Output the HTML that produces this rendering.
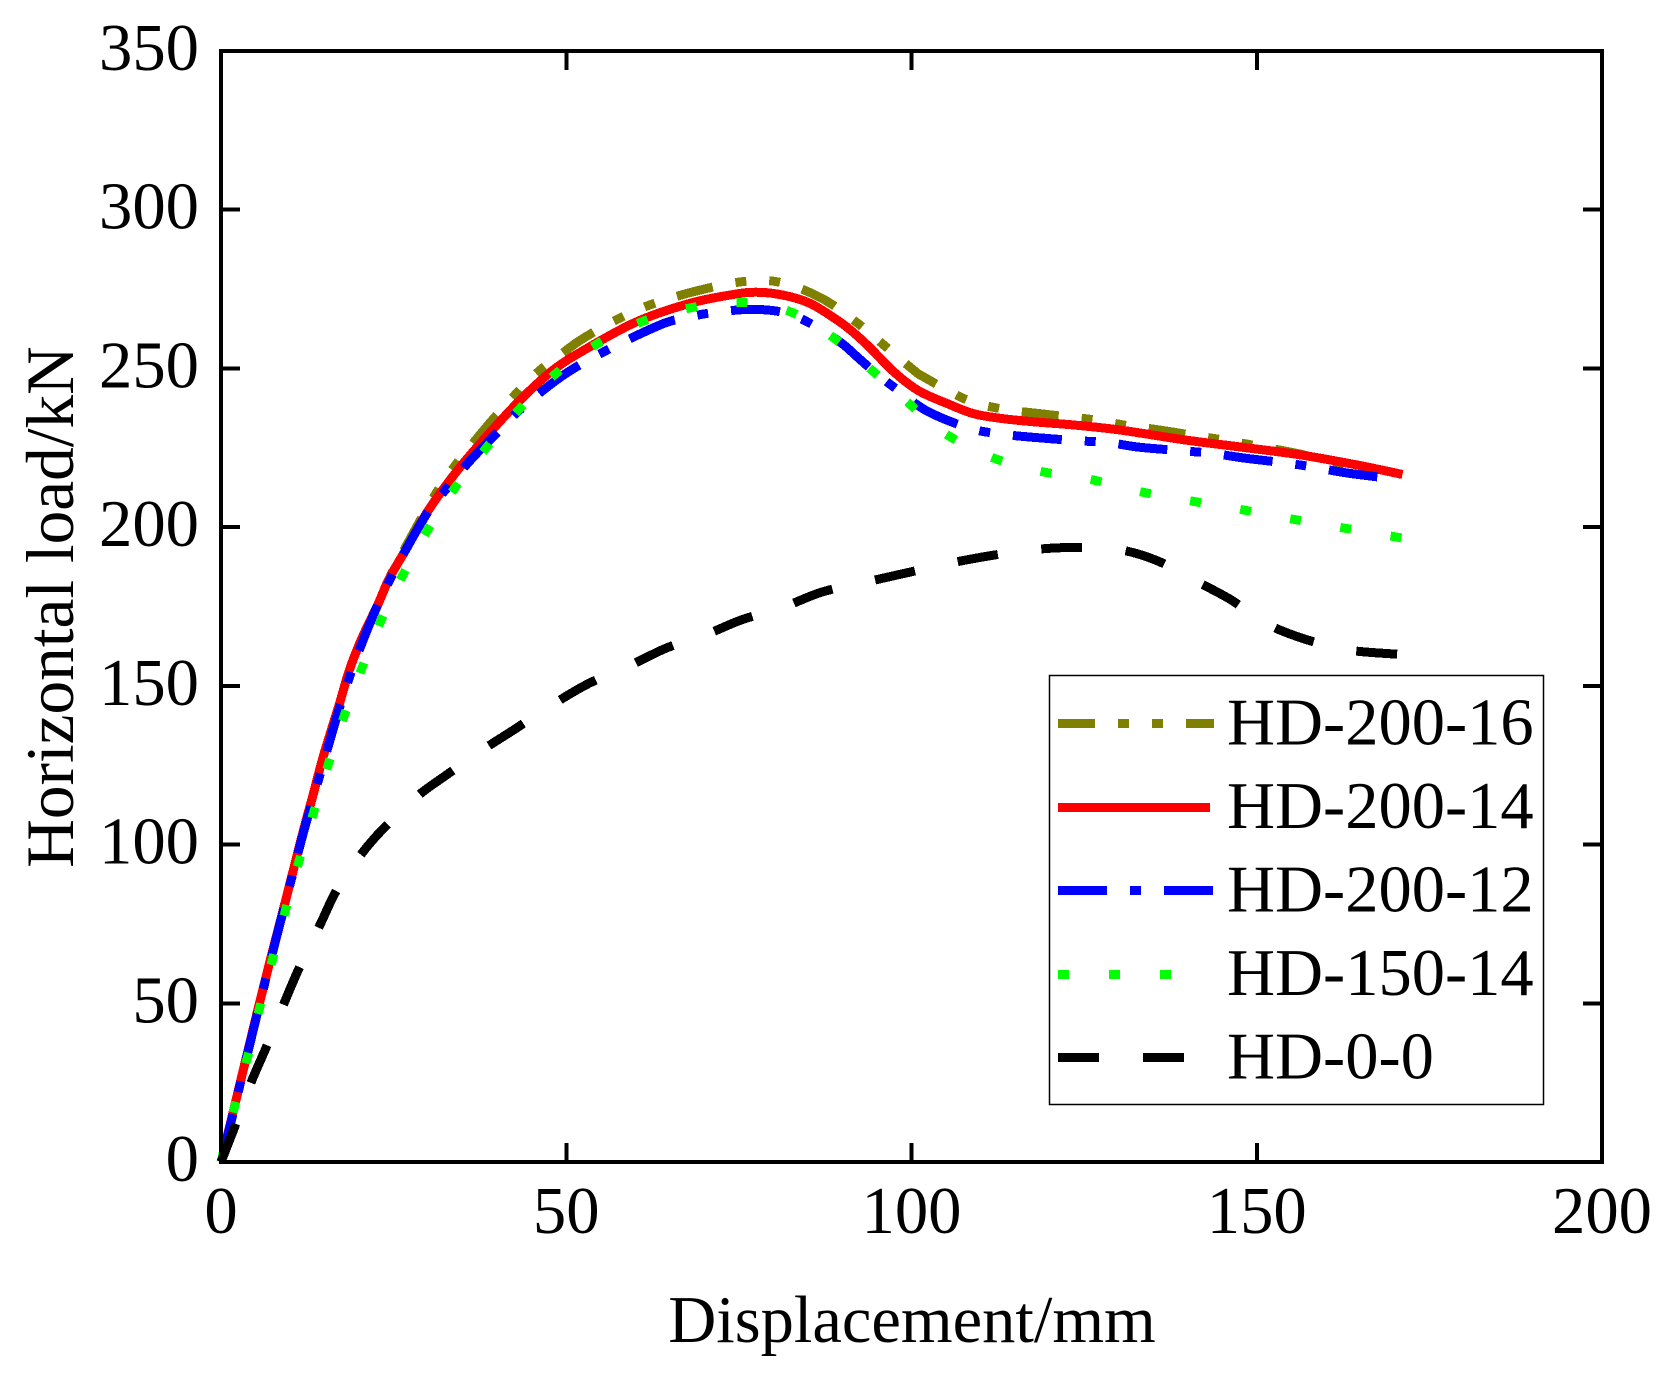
<!DOCTYPE html>
<html lang="en">
<head>
<meta charset="utf-8">
<title>Horizontal load vs displacement</title>
<style>
html,body{margin:0;padding:0;background:#fff;}
svg{display:block;}
text{font-family:"Liberation Serif",serif;fill:#000;}
</style>
</head>
<body>
<svg id="chart" xmlns="http://www.w3.org/2000/svg" width="1679" height="1375" viewBox="0 0 1679 1375">
  <rect x="0" y="0" width="1679" height="1375" fill="#fff"/>
  <g id="series"></g>
  <g id="axes"></g>
  <text x="912" y="1342" font-size="66.5" text-anchor="middle">Displacement/mm</text>
  <text transform="translate(73,607) rotate(-90)" font-size="67.3" text-anchor="middle">Horizontal load/kN</text>
  <g>
    <rect x="1049.5" y="675.5" width="494" height="429" fill="#fff" stroke="#000" stroke-width="1.5"/>
    <line x1="1058" x2="1214" y1="723.4" y2="723.4" stroke="#808000" stroke-width="9" stroke-dasharray="37 23 11 23 11 23" shape-rendering="crispEdges"/>
    <text x="1227" y="744.3" font-size="66.5">HD-200-16</text>
    <line x1="1058" x2="1210" y1="807.4" y2="807.4" stroke="#ff0000" stroke-width="9" shape-rendering="crispEdges"/>
    <text x="1227" y="827.8" font-size="66.5">HD-200-14</text>
    <line x1="1058" x2="1214" y1="890.4" y2="890.4" stroke="#0000ff" stroke-width="9" stroke-dasharray="49 23 11 23" shape-rendering="crispEdges"/>
    <text x="1227" y="911.3" font-size="66.5">HD-200-12</text>
    <line x1="1058" x2="1200" y1="974.3" y2="974.3" stroke="#00ff00" stroke-width="9" stroke-dasharray="11 40" shape-rendering="crispEdges"/>
    <text x="1227" y="994.8" font-size="66.5">HD-150-14</text>
    <line x1="1058" x2="1214" y1="1057.3" y2="1057.3" stroke="#000" stroke-width="9" stroke-dasharray="41 44" shape-rendering="crispEdges"/>
    <text x="1227" y="1078.3" font-size="66.5">HD-0-0</text>
  </g>
</svg>
<script>
const xTickLabels = [0, 50, 100, 150, 200];
const yTickLabels = [0, 50, 100, 150, 200, 250, 300, 350];

const hd20016X = [0,1.6,3,6.25,9.5,11.7,13.4,14.8,17.1,18.6,20.4,22.7,24.4,26.8,30.8,34,36.7,39.4,42.5,45.8,49.5,51.7,54.1,57.8,62.5,69.4,76.2,81.2,87,92.4,96.3,100.3,101.7,107.8,112.7,119.6,126.5,131.2,135.6,140.6,145,149.8,154.5,157.8,163.3,170.8];
const hd20016Y = [0,14.3,27,56,83.6,102.5,116.2,127.7,144,155,165,175.5,184,194,209.5,219.7,227,234,241.5,248.7,254.9,258.4,261.6,265.9,270.3,274.7,277.5,277,272.1,263.9,256.8,249.5,247.4,240.3,237.4,235.5,233.8,232,230.7,229,227.5,225.7,223.8,222.2,218.5,216.5];

const hd20014X = [0,1.6,3,6.25,9.5,11.7,13.4,14.8,17.1,18.6,20.4,22.7,24.4,26.8,30,34,38,43.3,48.1,53,60.2,67.9,74.2,77.6,81.4,85.3,89.4,91.5,94,97.4,101,105.1,108.9,112.8,117.6,123.4,130.2,139.5,147.8,156.2,164.5,171.1];
const hd20014Y = [0,14.3,27,56,83.6,102.5,116.2,127.7,144,155,165,175.5,184,193,205.2,217.2,227.5,240,249.5,256.3,264.7,270.5,273.3,274,273.1,270.5,265,261.5,256.5,249,243,239,235.8,234.3,233.2,232.2,230.6,227.5,225.2,222.8,219.6,216.6];

const hd20012X = [0,1.64,3.1,6.3,9.55,11.9,14.2,15.8,17.2,18.8,20.6,22.6,24.6,26.8,30,32.8,36.3,40.1,43.5,49.6,56.1,63.6,66.9,71.3,77.1,81.9,86,89.9,92.1,94.8,98.3,102.4,108.5,113.1,117.6,124.2,128.4,132.9,139.5,143.7,148.4,155,159.2,163.6,170.3];
const hd20012Y = [0,14.3,27.5,56,83.6,103.5,121,133,143.4,154,164.5,175,184,193,204.9,212.5,221.5,230,237.4,247.9,256,263.7,265.8,267.6,268.6,267.4,263.4,257.9,253.7,248.6,242.7,236.4,231.1,229.3,228.3,227.2,226.7,225.2,224,223.2,221.7,220,218.5,216.9,215.1];

const hd15014X = [0,1.93,3.77,5.55,7.43,9.3,11.25,13.37,15.5,17.8,20.3,23,26.1,29.5,33.2,37.6,42.5,47.7,53.7,60.7,68,75.4,82.4,88.3,93.8,99.1,104.8,111.6,118.9,126,133.3,140.6,147.8,155,162.4,169.9,171];
const hd15014Y = [0,17.1,32.4,48.1,63.6,79,94.4,109.8,125,140.3,155,169.7,183.9,197.5,210.3,222.8,235.5,246.9,256.7,264.5,269.1,270.8,267.9,260.3,250.3,240,229.6,222,217.5,215,211.1,208.2,205.5,202.6,199.8,197,196.6];

const hd00X = [0,2.13,4.34,6.62,9.17,11.4,14.4,16.85,20.5,23.5,28.3,32.7,38,42.3,48.4,53.3,59.2,64.6,70.4,75.4,81.3,87.1,93.4,99.5,105.7,111.4,117.6,123.6,130.1,135.6,141.2,146.2,151.7,157.3,163.3,169.4,170.8];
const hd00Y = [0,11.9,25,36.5,50.2,61.5,75,86,97.5,105,115,122,130,136,144.6,150.8,156.4,162,166.3,170.8,174.7,179.6,182.7,185.7,188.7,191,192.9,193.6,192.9,189.4,183,177.2,169.3,164.5,161.3,160.1,160];

const SVG_NS = 'http://www.w3.org/2000/svg';
const PLOT_LEFT = 221, PLOT_RIGHT = 1602, PLOT_TOP = 51, PLOT_BOTTOM = 1162;
const X_MAX = 200, Y_MAX = 350, TICK_LEN = 19;

function xScale(v) { return PLOT_LEFT + (v / X_MAX) * (PLOT_RIGHT - PLOT_LEFT); }
function yScale(v) { return PLOT_BOTTOM - (v / Y_MAX) * (PLOT_BOTTOM - PLOT_TOP); }

function smoothPath(xs, ys) {
  const p = xs.map(function (x, i) { return [xScale(x), yScale(ys[i])]; });
  let d = 'M' + p[0][0].toFixed(2) + ' ' + p[0][1].toFixed(2);
  for (let i = 0; i < p.length - 1; i++) {
    const a = p[Math.max(i - 1, 0)], b = p[i], c = p[i + 1], e = p[Math.min(i + 2, p.length - 1)];
    const c1x = b[0] + (c[0] - a[0]) / 6, c1y = b[1] + (c[1] - a[1]) / 6;
    const c2x = c[0] - (e[0] - b[0]) / 6, c2y = c[1] - (e[1] - b[1]) / 6;
    d += 'C' + c1x.toFixed(2) + ' ' + c1y.toFixed(2) + ' ' + c2x.toFixed(2) + ' ' + c2y.toFixed(2) + ' ' + c[0].toFixed(2) + ' ' + c[1].toFixed(2);
  }
  return d;
}

const seriesLayer = document.getElementById('series');
const axesLayer = document.getElementById('axes');

function addSeries(name, xs, ys, color, dash) {
  const path = document.createElementNS(SVG_NS, 'path');
  
  
  path.setAttribute('d', smoothPath(xs, ys));
  path.setAttribute('fill', 'none');
  path.setAttribute('stroke', color);
  path.setAttribute('stroke-width', '9');
  path.setAttribute('stroke-linejoin', 'round');
  path.setAttribute('shape-rendering', 'crispEdges');
  if (dash) path.setAttribute('stroke-dasharray', dash);
  seriesLayer.appendChild(path);
}

addSeries('series-hd-200-16', hd20016X, hd20016Y, '#808000', '37 23 11 23 11 23');
addSeries('series-hd-200-14', hd20014X, hd20014Y, '#ff0000', '');
addSeries('series-hd-200-12', hd20012X, hd20012Y, '#0000ff', '49 23 11 23');
addSeries('series-hd-150-14', hd15014X, hd15014Y, '#00ff00', '11 39.85');
addSeries('series-hd-0-0', hd00X, hd00Y, '#000000', '41 43.6');

const frame = document.createElementNS(SVG_NS, 'rect');


frame.setAttribute('x', PLOT_LEFT);
frame.setAttribute('y', PLOT_TOP);
frame.setAttribute('width', PLOT_RIGHT - PLOT_LEFT);
frame.setAttribute('height', PLOT_BOTTOM - PLOT_TOP);
frame.setAttribute('fill', 'none');
frame.setAttribute('stroke', '#000');
frame.setAttribute('stroke-width', '4');
frame.setAttribute('shape-rendering', 'crispEdges');
axesLayer.appendChild(frame);

function addTick(name, x1, y1, x2, y2) {
  const tick = document.createElementNS(SVG_NS, 'line');
  
  
  tick.setAttribute('x1', x1);
  tick.setAttribute('y1', y1);
  tick.setAttribute('x2', x2);
  tick.setAttribute('y2', y2);
  tick.setAttribute('stroke', '#000');
  tick.setAttribute('stroke-width', '4');
  tick.setAttribute('shape-rendering', 'crispEdges');
  axesLayer.appendChild(tick);
}

xTickLabels.forEach(function (v) {
  const x = xScale(v);
  addTick('x-tick-bottom-' + v, x, PLOT_BOTTOM, x, PLOT_BOTTOM - TICK_LEN);
  addTick('x-tick-top-' + v, x, PLOT_TOP, x, PLOT_TOP + TICK_LEN);
  const label = document.createElementNS(SVG_NS, 'text');
  
  
  label.setAttribute('x', x);
  label.setAttribute('y', 1233);
  label.setAttribute('font-size', '66.7');
  label.setAttribute('text-anchor', 'middle');
  label.textContent = String(v);
  axesLayer.appendChild(label);
});

yTickLabels.forEach(function (v) {
  const y = yScale(v);
  addTick('y-tick-left-' + v, PLOT_LEFT, y, PLOT_LEFT + TICK_LEN, y);
  addTick('y-tick-right-' + v, PLOT_RIGHT, y, PLOT_RIGHT - TICK_LEN, y);
  const label = document.createElementNS(SVG_NS, 'text');
  
  
  label.setAttribute('x', 199);
  label.setAttribute('y', y + 19);
  label.setAttribute('font-size', '66.7');
  label.setAttribute('text-anchor', 'end');
  label.textContent = String(v);
  axesLayer.appendChild(label);
});
</script>
</body>
</html>
